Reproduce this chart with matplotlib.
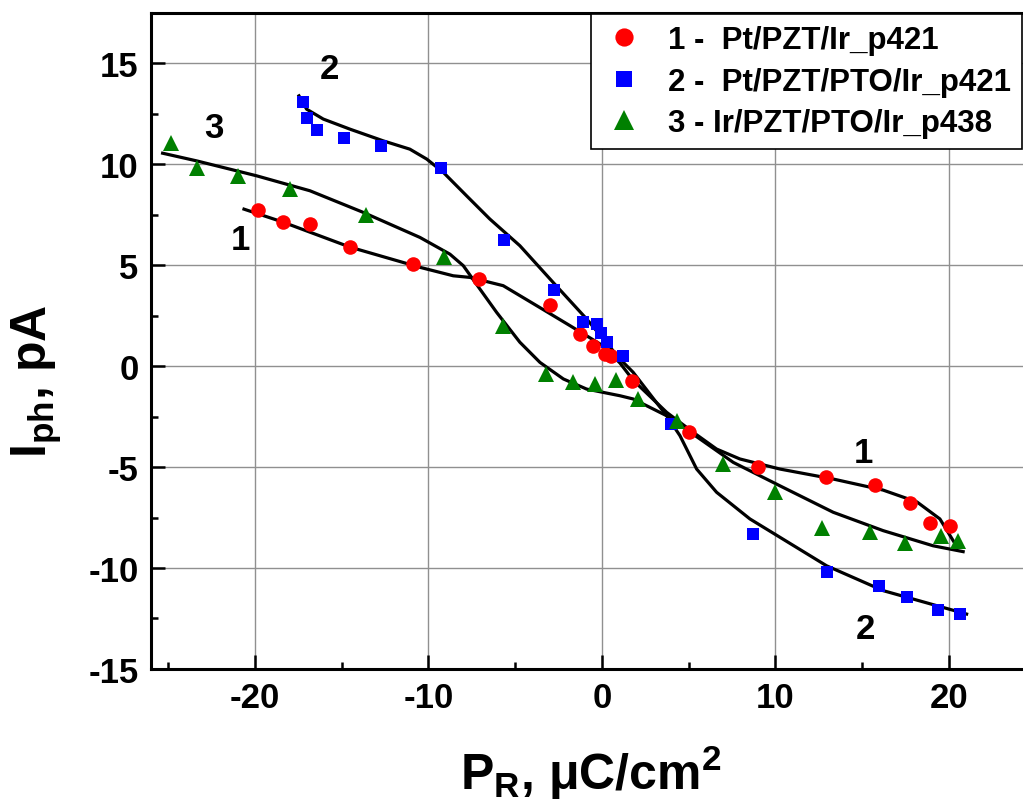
"""
Photocurrent vs remnant polarization for three capacitor stacks
"""
import matplotlib
matplotlib.use('Agg')
import matplotlib.pyplot as plt
from matplotlib.ticker import MultipleLocator

plt.rcParams['font.family'] = ['Liberation Sans', 'DejaVu Sans']
plt.rcParams['font.weight'] = 'bold'
plt.rcParams['axes.unicode_minus'] = False
plt.rcParams['mathtext.fontset'] = 'custom'
plt.rcParams['mathtext.rm'] = 'Liberation Sans:bold'
plt.rcParams['mathtext.bf'] = 'Liberation Sans:bold'
plt.rcParams['mathtext.it'] = 'Liberation Sans:bold'

# measured points, sample 1 (Pt/PZT/Ir)
p1 = [-19.81, -18.40, -16.83, -14.52, -10.88, -7.07, -3.00, -1.27, -0.50,
      0.17, 0.52, 1.71, 5.00, 9.01, 12.89, 15.73, 17.75, 18.90, 20.06]
i1 = [7.74, 7.11, 7.03, 5.91, 5.04, 4.31, 3.02, 1.58, 1.00,
      0.59, 0.51, -0.76, -3.28, -5.02, -5.48, -5.89, -6.78, -7.77, -7.94]

# sample 2 (Pt/PZT/PTO/Ir)
p2 = [-17.25, -16.98, -16.44, -14.87, -12.75, -9.30, -5.65, -2.77, -1.08,
      -0.31, -0.06, 0.27, 1.19, 3.96, 8.72, 12.95, 15.98, 17.60, 19.38, 20.63]
i2 = [13.08, 12.29, 11.67, 11.27, 10.91, 9.79, 6.25, 3.75, 2.16,
      2.10, 1.62, 1.17, 0.51, -2.87, -8.32, -10.21, -10.91, -11.42, -12.06, -12.28]

# sample 3 (Ir/PZT/PTO/Ir)
p3 = [-24.86, -23.36, -20.98, -17.98, -13.60, -9.11, -5.72, -3.23, -1.69,
      -0.40, 0.79, 2.09, 4.30, 6.99, 9.97, 12.66, 15.48, 17.46, 19.52, 20.54]
i3 = [11.04, 9.82, 9.42, 8.76, 7.48, 5.38, 2.00, -0.40, -0.81,
      -0.89, -0.69, -1.63, -2.71, -4.85, -6.25, -8.03, -8.20, -8.76, -8.43, -8.65]

# hand-drawn fit curves
fit1_x = [-20.63, -18.39, -14.52, -10.49, -8.57, -7.61, -5.69, -3.76, -1.84,
          0.07, 1.04, 1.80, 3.73, 5.26, 6.61, 7.95, 10.26, 13.31, 16.20,
          18.16, 19.48, 20.29]
fit1_y = [7.77, 7.13, 5.89, 4.89, 4.47, 4.39, 3.98, 2.99, 2.00,
          1.00, 0.15, -0.70, -2.29, -3.28, -4.11, -4.60, -5.10, -5.59, -6.14,
          -6.73, -7.57, -8.71]

fit2_x = [-17.46, -17.02, -16.06, -14.52, -12.60, -11.07, -10.10, -9.14, -7.80,
          -6.46, -4.73, -2.81, -0.88, 1.04, 1.80, 3.73, 4.50, 5.46, 6.61,
          8.53, 12.95, 16.21, 21.02]
fit2_y = [13.38, 12.72, 12.23, 11.73, 11.15, 10.74, 10.25, 9.59, 8.43,
          7.28, 5.96, 4.14, 2.33, 0.35, -0.31, -2.46, -3.45, -5.10, -6.25,
          -7.57, -9.89, -11.12, -12.28]

fit3_x = [-25.32, -23.36, -19.90, -16.83, -13.76, -10.49, -8.76, -7.99, -7.03,
          -6.07, -4.73, -3.57, -2.22, -0.88, 1.04, 1.80, 3.73, 5.65, 7.57,
          10.26, 13.33, 16.21, 19.09, 20.82]
fit3_y = [10.54, 10.16, 9.42, 8.68, 7.61, 6.37, 5.54, 4.97, 3.81,
          2.66, 1.18, 0.18, -0.64, -1.14, -1.47, -1.63, -2.46, -3.61, -4.77,
          -5.93, -7.24, -8.15, -8.90, -9.19]

labels = ['1 -  Pt/PZT/Ir_p421', '2 -  Pt/PZT/PTO/Ir_p421', '3 - Ir/PZT/PTO/Ir_p438']

# curve number tags
tag_text = ['1', '1', '2', '2', '3']
tag_x = [-20.81, 15.06, -15.68, 15.16, -22.35]
tag_y = [6.29, -4.27, 14.74, -13.02, 11.82]

fig = plt.figure(figsize=(10.23, 8.12), dpi=100)
ax = fig.add_axes([0.1476, 0.1749, 0.8524, 0.8083])

ax.grid(True, which='major', color='#909090', linewidth=1.0)
ax.set_axisbelow(True)

for fx, fy in [(fit1_x, fit1_y), (fit2_x, fit2_y), (fit3_x, fit3_y)]:
    ax.plot(fx, fy, color='black', linewidth=2.3, zorder=3,
            solid_joinstyle='round')

ax.plot(p1, i1, 'o', color='#ff0000', markersize=10.5, markeredgewidth=0,
        label=labels[0], zorder=4)
ax.plot(p2, i2, 's', color='#0000ff', markersize=8.8, markeredgewidth=0,
        label=labels[1], zorder=4)
ax.plot(p3, i3, '^', color='#008000', markersize=11, markeredgewidth=0,
        label=labels[2], zorder=4)

for t, x, y in zip(tag_text, tag_x, tag_y):
    ax.text(x, y, t, fontsize=25, fontweight='bold', ha='center', va='center')

ax.set_xlim(-25.99, 24.27)
ax.set_ylim(-15, 17.5)
ax.xaxis.set_major_locator(MultipleLocator(10))
ax.xaxis.set_minor_locator(MultipleLocator(5))
ax.yaxis.set_major_locator(MultipleLocator(5))
ax.yaxis.set_minor_locator(MultipleLocator(2.5))

ax.tick_params(which='both', direction='in', top=False, right=False,
               width=1.8, labelsize=25)
ax.tick_params(which='major', length=10, pad=9)
ax.tick_params(which='minor', length=5)
for lab in ax.get_xticklabels() + ax.get_yticklabels():
    lab.set_fontweight('bold')

for side in ['left', 'bottom', 'top']:
    ax.spines[side].set_linewidth(2.2)
ax.spines['right'].set_visible(False)

leg = ax.legend(loc='upper right', bbox_to_anchor=(0.999, 0.981),
                bbox_transform=fig.transFigure, prop={'weight': 'bold', 'size': 22.5},
                frameon=True, fancybox=False, edgecolor='black', framealpha=1,
                handletextpad=0.7, labelspacing=0.36, borderpad=0.35,
                handlelength=1.4, borderaxespad=0, markerscale=1.25)
leg.get_frame().set_linewidth(1.2)

fig.text(0.578, 0.048, r'$\mathrm{P}_{\mathrm{R}}$, μC/cm$^{\mathrm{2}}$',
         fontsize=36, fontweight='bold', ha='center', va='center')
fig.text(0.036, 0.53, r'$\mathrm{I}_{\mathrm{ph}}$, pA', fontsize=36,
         fontweight='bold', rotation=90, ha='center', va='center')

fig.savefig('out.png', dpi=100)
